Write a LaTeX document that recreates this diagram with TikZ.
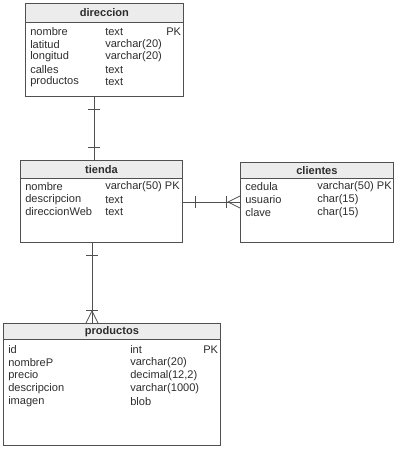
\documentclass[tikz,border=0pt]{standalone}
\usepackage{fontspec}
\setmainfont{Liberation Sans}
\usetikzlibrary{positioning,calc}
\definecolor{erline}{RGB}{80,80,80}
\definecolor{erhead}{RGB}{236,236,236}
\definecolor{ertext}{RGB}{45,45,45}

\begin{document}
\begin{tikzpicture}[x=0.75pt,y=-0.75pt,
  tabla/.style={draw=erline,line width=0.8pt,anchor=north west,inner sep=0pt},
  cabeza/.style={draw=erline,line width=0.6pt,fill=erhead,anchor=north west,inner sep=0pt,font=\fontsize{8.3}{9}\selectfont\bfseries,text=ertext},
  campo/.style={anchor=west,inner sep=0pt,font=\fontsize{8.3}{9}\selectfont,text=ertext},
  rel/.style={draw=erline,line width=0.6pt}]
  \useasboundingbox (0,0) rectangle (400,452);
  % direccion
  \node[tabla,minimum width=118.5pt,minimum height=69.75pt] (dir) at (25,3) {};
  \node[cabeza,minimum width=118.5pt,minimum height=14.25pt] (dirh) at (25,3) {direccion};
  \foreach \n/\t [count=\i from 0] in {nombre/text,latitud/{varchar(20)},longitud/{varchar(20)},calles/text,productos/text}{
    \node[campo] (dirn\i) at (30,32+12.5*\i) {\n};
    \node[campo] (dirt\i) at (105,32+12.5*\i) {\t};
  }
  \node[campo] (dirpk) at (166,32) {PK};
  % tienda
  \node[tabla,minimum width=121.5pt,minimum height=61.5pt] (tie) at (20,160) {};
  \node[cabeza,minimum width=121.5pt,minimum height=13.5pt] (tieh) at (20,160) {tienda};
  \foreach \n/\t [count=\i from 0] in {nombre/{varchar(50) PK},descripcion/text,direccionWeb/text}{
    \node[campo] (tien\i) at (25,187+12.5*\i) {\n};
    \node[campo] (tiet\i) at (105,187+12.5*\i) {\t};
  }
  % clientes
  \node[tabla,minimum width=114.75pt,minimum height=60pt] (cli) at (240,162) {};
  \node[cabeza,minimum width=114.75pt,minimum height=12pt] (clih) at (240,162) {clientes};
  \foreach \n/\t [count=\i from 0] in {cedula/{varchar(50) PK},usuario/{char(15)},clave/{char(15)}}{
    \node[campo] (clin\i) at (245,187+13*\i) {\n};
    \node[campo] (clit\i) at (317,187+13*\i) {\t};
  }
  % productos
  \node[tabla,minimum width=162.75pt,minimum height=91.5pt] (pro) at (3,323) {};
  \node[cabeza,minimum width=162.75pt,minimum height=12pt] (proh) at (3,323) {productos};
  \foreach \n/\t [count=\i from 0] in {id/int,nombreP/{varchar(20)},precio/{decimal(12,2)},descripcion/{varchar(1000)},imagen/blob}{
    \node[campo] (pron\i) at (8,350+13*\i) {\n};
    \node[campo] (prot\i) at (130,350+13*\i) {\t};
  }
  \node[campo] (propk) at (203,350) {PK};
  % relaciones
  \coordinate (x1) at (94,0);
  \coordinate (x2) at (92,0);
  \coordinate (y1) at (0,202);
  \draw[rel] (dir.south -| x1) -- (tie.north -| x1);
  \draw[rel] (88,109) -- (100,109);
  \draw[rel] (88,147) -- (100,147);
  \draw[rel] (tie.east |- y1) -- (cli.west |- y1);
  \draw[rel] (195,196) -- (195,208);
  \draw[rel] (226,196) -- (226,208);
  \draw[rel] (240,196) -- (228,202) -- (240,208);
  \draw[rel] (tie.south -| x2) -- (pro.north -| x2);
  \draw[rel] (86,255) -- (98,255);
  \draw[rel] (86,310) -- (98,310);
  \draw[rel] (86,323) -- (92,311) -- (98,323);
\end{tikzpicture}
\end{document}
